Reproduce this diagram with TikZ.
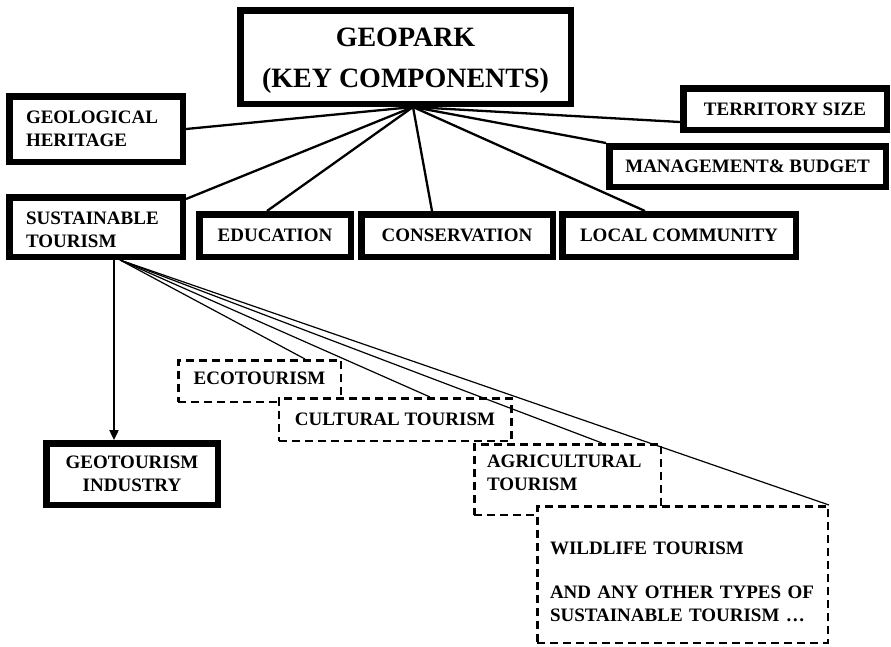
\documentclass[tikz,border=0pt]{standalone}
\usepackage{fontspec}
\setmainfont{Liberation Serif}
\usetikzlibrary{arrows.meta,calc}
\tikzset{
  comp/.style={draw,line width=6.5pt,fill=white,inner sep=0pt,align=center,font=\fontsize{19}{23}\selectfont\bfseries},
  kind/.style={draw,line width=2.5pt,dash pattern=on 8pt off 5pt,fill=white,inner sep=0pt,align=left,font=\fontsize{19}{23}\selectfont\bfseries},
  link/.style={line width=2.3pt},
  ray/.style={line width=1.2pt},
  arr/.style={-{Triangle[length=10pt,width=9pt]},line width=2.3pt}
}

\begin{document}
\begin{tikzpicture}[x=1pt,y=-1pt]
\useasboundingbox (0,0) rectangle (891,646);
% key components
\node[comp,minimum width=330.5pt,minimum height=93.5pt,font=\fontsize{28}{41}\selectfont\bfseries] (gp) at (405.5,57) {\rule{0pt}{26pt}GEOPARK\\(KEY COMPONENTS)};
\node[comp,align=left,text width=140pt,minimum width=173.5pt,minimum height=65.5pt] (geo) at (96,129) {GEOLOGICAL\\HERITAGE};
\node[comp,align=left,text width=140pt,minimum width=173.5pt,minimum height=59.5pt] (sust) at (96,227) {\rule{0pt}{18pt}SUSTAINABLE\\TOURISM};
\node[comp,minimum width=151.5pt,minimum height=42.5pt] (edu) at (275,235.5) {EDUCATION};
\node[comp,minimum width=191.5pt,minimum height=42.5pt] (cons) at (457,235.5) {CONSERVATION};
\node[comp,minimum width=233.5pt,minimum height=42.5pt] (loc) at (679,235.5) {LOCAL COMMUNITY};
\node[comp,minimum width=203.5pt,minimum height=41.5pt] (terr) at (785,109) {TERRITORY SIZE};
\node[comp,minimum width=276.5pt,minimum height=40.5pt] (mgmt) at (747.5,166.5) {MANAGEMENT\& BUDGET};
\node[comp,minimum width=171.5pt,minimum height=61.5pt] (geot) at (132,474) {GEOTOURISM\\INDUSTRY};
% kinds of sustainable tourism
\node[kind,align=center,minimum width=162.5pt,minimum height=41.5pt] (eco) at (259.5,381) {ECOTOURISM\rule[-6pt]{0pt}{6pt}};
\node[kind,align=center,minimum width=232.5pt,minimum height=42.5pt] (cult) at (395,419.5) {CULTURAL TOURISM};
\node[kind,text width=161pt,minimum width=186.5pt,minimum height=70.5pt] (agri) at (567.5,479.5) {AGRICULTURAL\\TOURISM\rule[-13.6pt]{0pt}{13.6pt}};
\node[kind,text width=265pt,minimum width=290.5pt,minimum height=136.5pt] (wild) at (682.5,574.5) {\rule{0pt}{27pt}WILDLIFE TOURISM\\[21pt]AND ANY OTHER TYPES OF\\SUSTAINABLE TOURISM \dots};
% connectors
\coordinate (top) at ($(gp.south)+(7.5,0)$);
\coordinate (foot) at ($(sust.south)+(24,0)$);
\coordinate (drop) at ($(sust.south)+(18,0)$);
\draw[link] (top) -- (geo.east); \draw[link] (top) -- ($(sust.north east)+(0,5)$);
\draw[link] (top) -- ($(edu.north)+(-8,0)$); \draw[link] (top) -- ($(cons.north)+(-25,0)$);
\draw[link] (top) -- ($(loc.north)+(-34,0)$); \draw[link] (top) -- (mgmt.north west);
\draw[link] (top) -- ($(terr.west)+(0,13)$);
\draw[arr] (drop) -- (drop |- geot.north);
\draw[ray] (foot) -- ($(eco.north)+(45.5,0)$); \draw[ray] (foot) -- ($(cult.north)+(35,0)$);
\draw[ray] (foot) -- ($(agri.north)+(34.5,0)$); \draw[ray] (foot) -- (wild.north east);
\end{tikzpicture}
\end{document}
